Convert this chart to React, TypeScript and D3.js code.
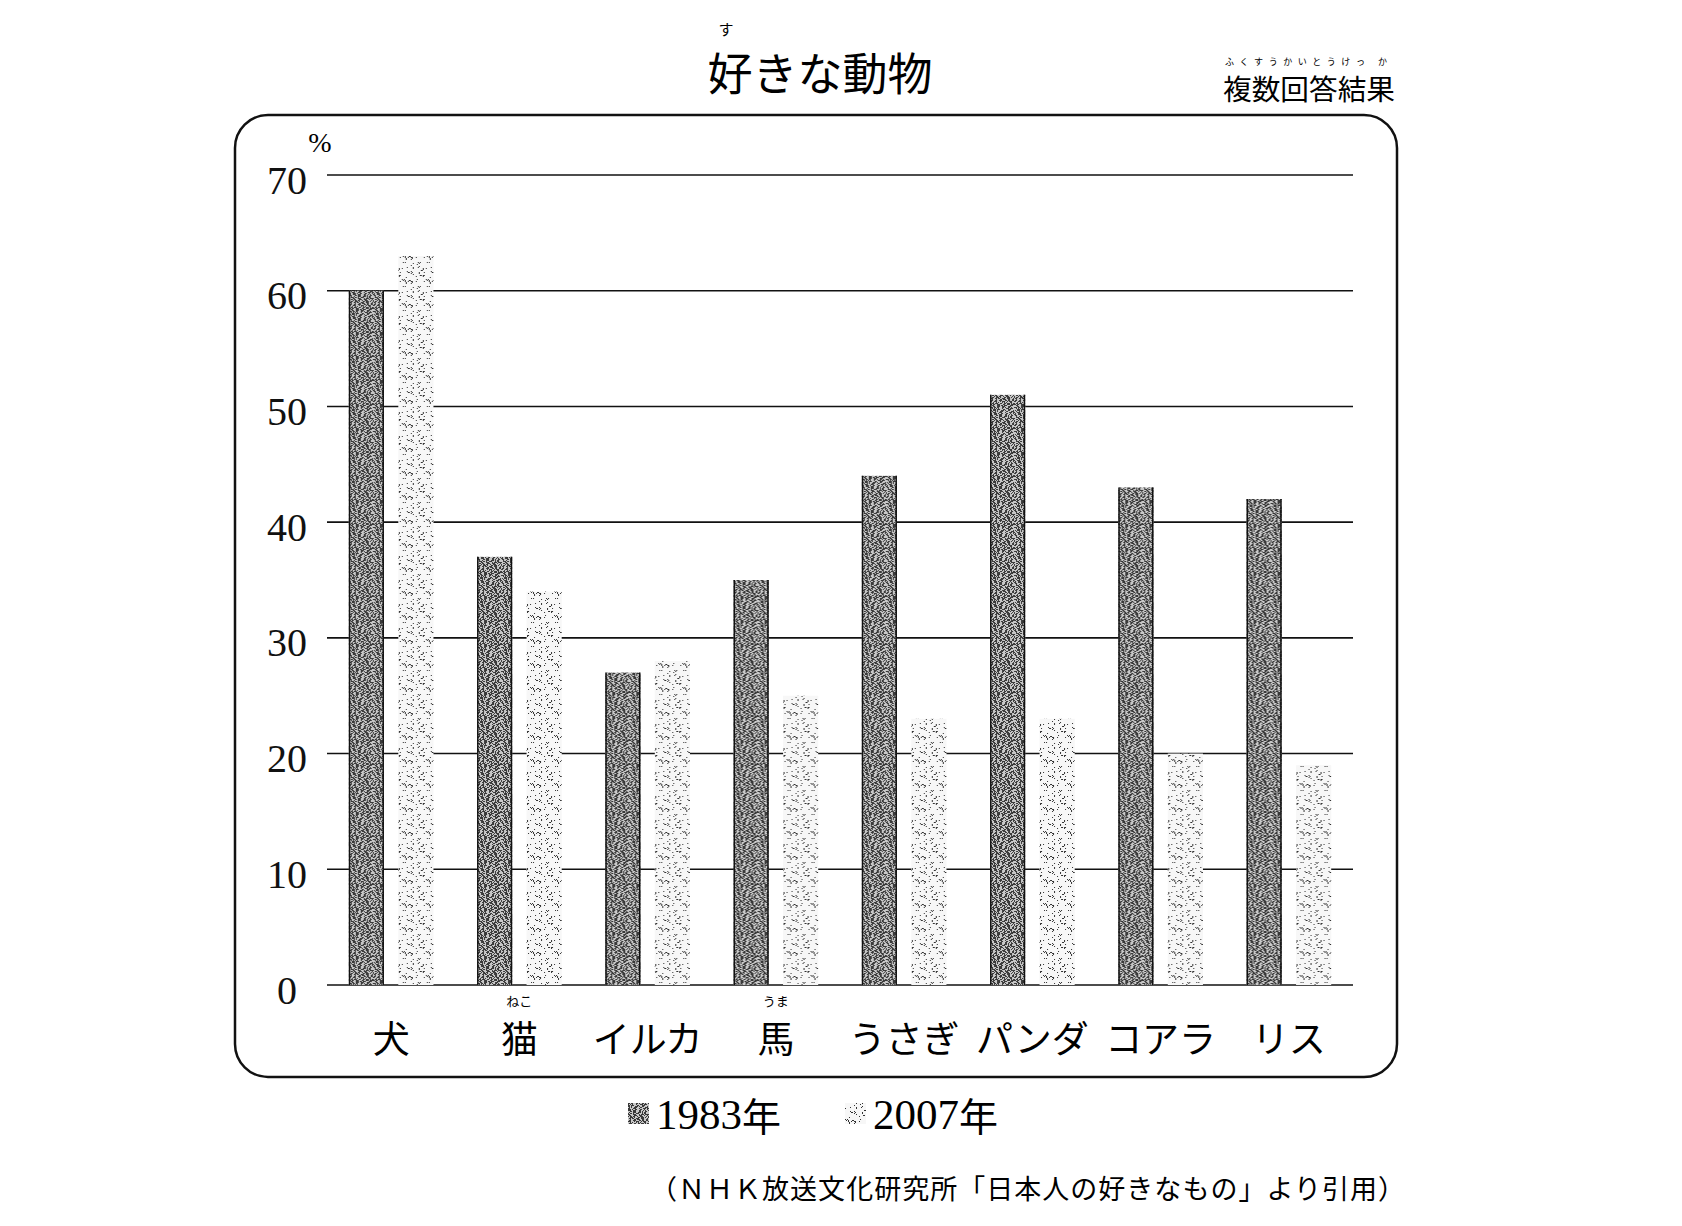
import React from "react";
import * as d3 from "d3";

const categories = ["犬", "猫", "イルカ", "馬", "うさぎ", "パンダ", "コアラ", "リス"];
const furigana = ["", "ねこ", "", "うま", "", "", "", ""];
const series = ["1983年", "2007年"];
const values1983 = [60, 37, 27, 35, 44, 51, 43, 42];
const values2007 = [63, 34, 28, 25, 23, 23, 20, 19];
const yTicks = [0, 10, 20, 30, 40, 50, 60, 70];
const subtitleText = "複数回答結果";
const subtitleRuby = "ふくすうかいとうけっ か";

const W = 1682;
const H = 1226;
const SERIF = "'Liberation Serif', 'DejaVu Serif', serif";
const JP = "'Noto Sans CJK JP', 'Noto Sans CJK SC', sans-serif";

// deterministic texture helper (not data)
function hash(i: number, j: number, s: number) {
  let h = (i * 374761393 + j * 668265263 + s * 982451653) | 0;
  h = Math.imul(h ^ (h >>> 13), 1274126177);
  h = h ^ (h >>> 16);
  return ((h >>> 0) % 1000) / 1000;
}

function darkPatternPixels() {
  const px: { x: number; y: number; w: number }[] = [];
  const N = 24;
  for (let j = 0; j < N; j++) {
    let i = 0;
    let on = hash(0, j, 7) < 0.5;
    while (i < N) {
      const len = 1 + Math.floor(hash(i, j, 3) * 3);
      const w = Math.min(len, N - i);
      if (on) px.push({ x: i, y: j, w });
      i += w;
      on = !on;
    }
  }
  return px;
}

function lightPatternPixels() {
  const px: { x: number; y: number }[] = [];
  const N = 24;
  for (let j = 0; j < N; j++) {
    for (let i = 0; i < N; i++) {
      if (hash(i, j, 11) < 0.08) px.push({ x: i, y: j });
    }
  }
  return px;
}

export default function App() {
  const y = d3.scaleLinear().domain([0, 70]).range([985, 175]);
  const x0 = d3
    .scaleBand<string>()
    .domain(categories)
    .range([327, 1353])
    .paddingInner(0.34)
    .paddingOuter(0.17);
  const x1 = d3
    .scaleBand<string>()
    .domain(series)
    .range([0, x0.bandwidth()])
    .paddingInner(0.29)
    .paddingOuter(0);

  const darkPx = darkPatternPixels();
  const lightPx = lightPatternPixels();
  const seriesValues = [values1983, values2007];

  return (
    <svg
      width={W}
      height={H}
      viewBox={`0 0 ${W} ${H}`}
      style={{ position: "absolute", left: 0, top: 0, background: "#fff" }}
    >
      <defs>
        <pattern id="darkTex" width={24} height={24} patternUnits="userSpaceOnUse">
          <rect x={0} y={0} width={24} height={24} fill="#c8c8c8" />
          {darkPx.map((p, k) => (
            <rect key={k} x={p.x} y={p.y} width={p.w} height={1} fill="#3a3a3a" />
          ))}
        </pattern>
        <pattern id="lightTex" width={24} height={24} patternUnits="userSpaceOnUse">
          <rect x={0} y={0} width={24} height={24} fill="#f7f7f7" />
          {lightPx.map((p, k) => (
            <rect key={k} x={p.x} y={p.y} width={1} height={1} fill="#333" />
          ))}
        </pattern>
      </defs>

      {/* Title */}
      <text x={726} y={28} fontFamily={JP} fontSize={15} textAnchor="middle" dominantBaseline="central">
        す
      </text>
      <text x={820} y={71} fontFamily={JP} fontSize={45} textAnchor="middle" dominantBaseline="central">
        好きな動物
      </text>

      {/* Subtitle with ruby */}
      <text
        x={1225}
        y={61}
        fontFamily={JP}
        fontSize={9}
        textLength={162}
        lengthAdjust="spacing"
        dominantBaseline="central"
      >
        {subtitleRuby}
      </text>
      <text
        x={1223}
        y={88}
        fontFamily={JP}
        fontSize={28}
        textLength={172}
        lengthAdjust="spacingAndGlyphs"
        dominantBaseline="central"
      >
        {subtitleText}
      </text>

      {/* Frame */}
      <rect x={235} y={115} width={1162} height={962} rx={33} ry={33} fill="none" stroke="#111" strokeWidth={2.5} />

      {/* Gridlines */}
      {yTicks.map((t) => (
        <line key={`g${t}`} x1={327} x2={1353} y1={y(t)} y2={y(t)} stroke="#111" strokeWidth={1.6} />
      ))}

      {/* Y tick labels */}
      {yTicks.map((t) => (
        <text
          key={`t${t}`}
          x={287}
          y={y(t) + 5}
          fontFamily={SERIF}
          fontSize={40}
          textAnchor="middle"
          dominantBaseline="central"
          fill="#111"
        >
          {t}
        </text>
      ))}
      <text x={320} y={142} fontFamily={SERIF} fontSize={28} textAnchor="middle" dominantBaseline="central">
        %
      </text>

      {/* Bars */}
      {categories.map((c, ci) => (
        <g key={c} transform={`translate(${x0(c)},0)`}>
          {series.map((s, si) => {
            const v = seriesValues[si][ci];
            const bx = x1(s)!;
            const bw = x1.bandwidth();
            const top = y(v);
            const h = y(0) - top;
            return (
              <g key={s}>
                <rect
                  x={bx}
                  y={top}
                  width={bw}
                  height={h}
                  fill={si === 0 ? "url(#darkTex)" : "url(#lightTex)"}
                />
                {si === 0 && (
                  <>
                    <line x1={bx + 0.75} x2={bx + 0.75} y1={top} y2={y(0)} stroke="#111" strokeWidth={1.5} />
                    <line x1={bx + bw - 0.75} x2={bx + bw - 0.75} y1={top} y2={y(0)} stroke="#111" strokeWidth={1.5} />
                  </>
                )}
              </g>
            );
          })}
        </g>
      ))}

      {/* Category labels */}
      {categories.map((c, ci) => {
        const cx = x0(c)! + x0.bandwidth() / 2;
        return (
          <g key={`l${c}`}>
            {furigana[ci] && (
              <text x={cx} y={1000} fontFamily={JP} fontSize={13} textAnchor="middle" dominantBaseline="central">
                {furigana[ci]}
              </text>
            )}
            <text x={cx} y={1037} fontFamily={JP} fontSize={37} textAnchor="middle" dominantBaseline="central">
              {c}
            </text>
          </g>
        );
      })}

      {/* Legend */}
      <rect x={628} y={1103} width={21} height={21} fill="url(#darkTex)" />
      <text x={656} y={1114} fontSize={43} dominantBaseline="central">
        <tspan fontFamily={SERIF}>1983</tspan>
        <tspan fontFamily={JP} fontSize={39}>年</tspan>
      </text>
      <rect x={845} y={1103} width={21} height={21} fill="url(#lightTex)" />
      <text x={873} y={1114} fontSize={43} dominantBaseline="central">
        <tspan fontFamily={SERIF}>2007</tspan>
        <tspan fontFamily={JP} fontSize={39}>年</tspan>
      </text>

      {/* Source */}
      <text
        x={650}
        y={1187}
        fontFamily={JP}
        fontSize={27}
        textLength={755}
        lengthAdjust="spacing"
        dominantBaseline="central"
      >
        （ＮＨＫ放送文化研究所「日本人の好きなもの」より引用）
      </text>
    </svg>
  );
}
